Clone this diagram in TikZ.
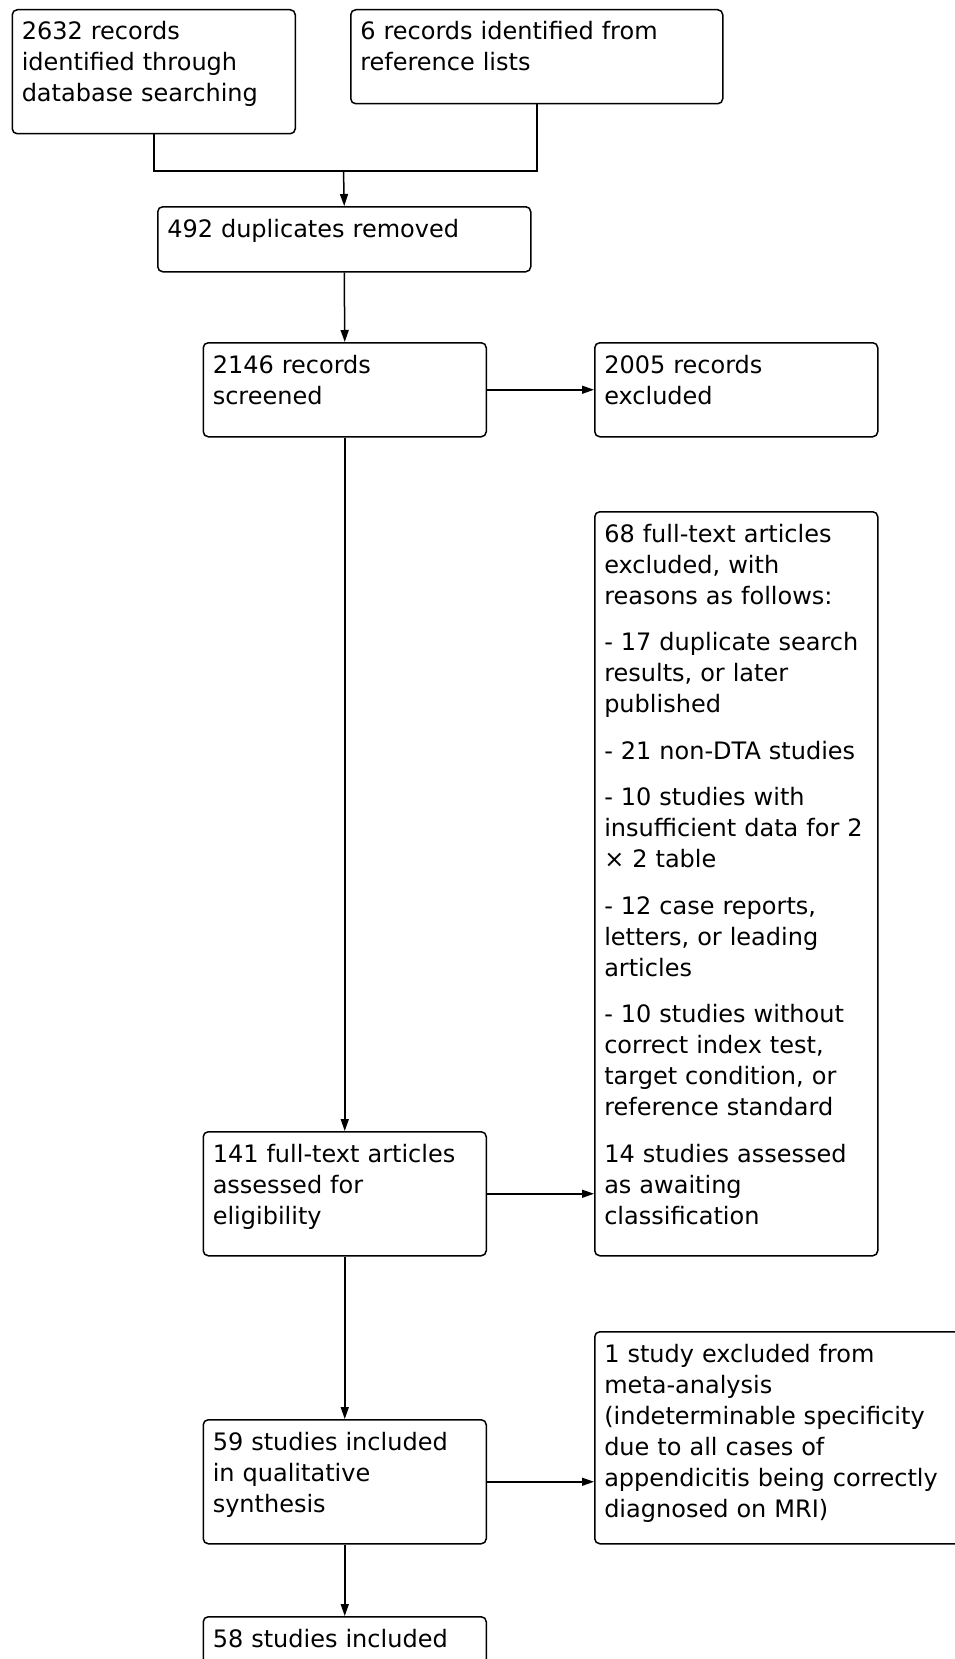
\documentclass[tikz,border=0pt]{standalone}
\usepackage{fontspec}
\setmainfont{DejaVu Sans}
\usetikzlibrary{arrows.meta}
\begin{document}
\begin{tikzpicture}[x=0.5pt,y=-0.5pt,line width=0.75pt,
  font=\fontsize{12}{15.5}\selectfont,
  box/.style={draw,rounded corners=2.5pt,anchor=north west,inner sep=0pt},
  txt/.style={anchor=base west,inner sep=0pt,align=left,text width=180pt},
  arr/.style={-{Triangle[length=6pt,width=4pt]}}]
\useasboundingbox (0,0) rectangle (954,1659);
\node[box,minimum width=141.5pt,minimum height=62pt] (id1) at (11.5,9) {};
\node[box,minimum width=186pt,minimum height=47pt] (id2) at (350,9) {};
\node[box,minimum width=186.5pt,minimum height=32.5pt] (dup) at (157,206) {};
\node[box,minimum width=141.5pt,minimum height=47pt] (scr) at (202.5,342) {};
\node[box,minimum width=141.5pt,minimum height=47pt] (exc) at (594,342) {};
\node[box,minimum width=141.5pt,minimum height=372pt] (full) at (594,511) {};
\node[box,minimum width=141.5pt,minimum height=62pt] (ft) at (202.5,1131) {};
\node[box,minimum width=141.5pt,minimum height=62pt] (qual) at (202.5,1419) {};
\node[box,minimum width=190pt,minimum height=106pt] (meta) at (594,1331) {};
\node[box,minimum width=141.5pt,minimum height=50pt] (quant) at (202.5,1616) {};
% texts
\node[txt] (id1t) at ([shift={(9.5,31)}]id1.north west) {2632 records\\identified through\\database searching};
\node[txt] (id2t) at ([shift={(9.5,31)}]id2.north west) {6 records identified from\\reference lists};
\node[txt] (dupt) at ([shift={(9.5,31)}]dup.north west) {492 duplicates removed};
\node[txt] (scrt) at ([shift={(9.5,31)}]scr.north west) {2146 records\\screened};
\node[txt] (exct) at ([shift={(9.5,31)}]exc.north west) {2005 records\\excluded};
\node[txt] (fullt) at ([shift={(9.5,31)}]full.north west) {68 full-text articles\\excluded, with\\reasons as follows:\\[7.75pt]
- 17 duplicate search\\results, or later\\published\\[7.75pt]
- 21 non-DTA studies\\[7.75pt]
- 10 studies with\\insufficient data for 2\\× 2 table\\[7.75pt]
- 12 case reports,\\letters, or leading\\articles\\[7.75pt]
- 10 studies without\\correct index test,\\target condition, or\\reference standard\\[7.75pt]
14 studies assessed\\as awaiting\\classification};
\node[txt] (ftt) at ([shift={(9.5,31)}]ft.north west) {141 full-text articles\\assessed for\\eligibility};
\node[txt] (qualt) at ([shift={(9.5,31)}]qual.north west) {59 studies included\\in qualitative\\synthesis};
\node[txt] (metat) at ([shift={(9.5,31)}]meta.north west) {1 study excluded from\\meta-analysis\\(indeterminable specificity\\due to all cases of\\appendicitis being correctly\\diagnosed on MRI)};
\node[txt] (quantt) at ([shift={(9.5,31)}]quant.north west) {58 studies included};
% connectors
\coordinate (jn) at (343.5,171);
\draw (id1.south) |- (jn) -| (id2.south);
\draw[arr] (jn) -- (dup.north);
\foreach \a/\b in {dup/scr,scr/ft,ft/qual,qual/quant} {
  \draw[arr] (\a.south) -- (\b.north);
}
\draw[arr] (scr.east) -- (exc.west);
\draw[arr] (ft.east) -- (ft.east -| full.west);
\draw[arr] (qual.east) -- (qual.east -| meta.west);
\end{tikzpicture}
\end{document}
